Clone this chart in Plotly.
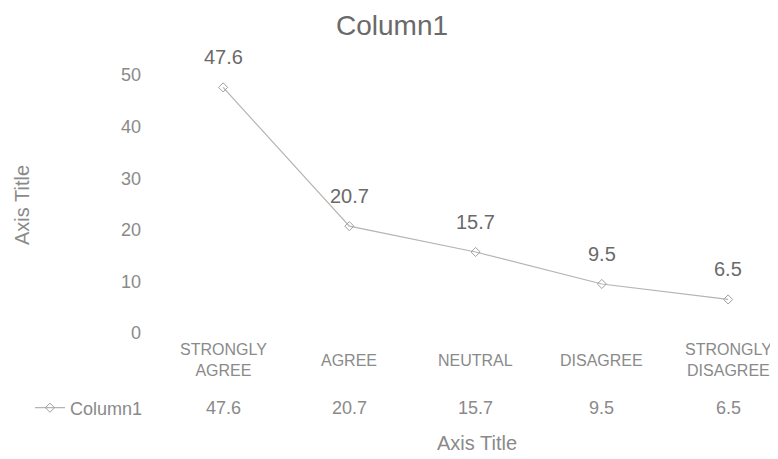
import plotly.graph_objects as go

categories = ["STRONGLY AGREE", "AGREE", "NEUTRAL", "DISAGREE", "STRONGLY DISAGREE"]
cat_labels = ["STRONGLY<br>AGREE", "AGREE", "NEUTRAL", "DISAGREE", "STRONGLY<br>DISAGREE"]
values = [47.6, 20.7, 15.7, 9.5, 6.5]
series_name = "Column1"
y_ticks = [0, 10, 20, 30, 40, 50]

TXT = "#8a8a8a"
LBL = "#6a6a6a"
LINE = "#b4b4b4"
FONT = "Liberation Sans, Arial, sans-serif"

W, H = 778, 459
OFF = 8  # the page body adds an 8px margin around the figure

def fy(px):  # page pixel row -> paper fraction (margins are zero)
    return 1 - (px - OFF) / H
def fx(px):
    return (px - OFF) / W

fig = go.Figure()
fig.add_trace(go.Scatter(
    x=list(range(len(categories))), y=values, name=series_name,
    mode="lines+markers",
    line=dict(color=LINE, width=1.2),
    marker=dict(symbol="diamond-open", size=7, color="#a0a0a0", line=dict(width=1, color="#a0a0a0")),
    showlegend=True,
))

annotations = []
for i, v in enumerate(values):
    annotations.append(dict(x=i, y=v, xref="x", yref="y", text=f"{v}", showarrow=False,
                            yshift=30, font=dict(size=20, color=LBL, family=FONT)))
for i, lab in enumerate(cat_labels):
    annotations.append(dict(x=i, y=fy(360), xref="x", yref="paper", text=lab, showarrow=False,
                            yanchor="middle", valign="middle", align="center",
                            font=dict(size=16, color=TXT, family=FONT)))
for i, v in enumerate(values):
    annotations.append(dict(x=i, y=fy(408), xref="x", yref="paper", text=f"{v}", showarrow=False,
                            yanchor="middle", font=dict(size=18, color=TXT, family=FONT)))
annotations.append(dict(x=fx(477), y=fy(443), xref="paper", yref="paper", text="Axis Title",
                        showarrow=False, xanchor="center", yanchor="middle",
                        font=dict(size=20, color=TXT, family=FONT)))
annotations.append(dict(x=fx(22), y=fy(205), xref="paper", yref="paper", text="Axis Title",
                        showarrow=False, textangle=-90, xanchor="center", yanchor="middle",
                        font=dict(size=20, color=TXT, family=FONT)))

fig.update_layout(
    width=W, height=H,
    margin=dict(l=0, r=0, t=0, b=0, autoexpand=False),
    paper_bgcolor="white", plot_bgcolor="white",
    title=dict(text="Column1", x=fx(392), xref="container", xanchor="center",
               y=fy(25), yref="container", yanchor="middle",
               font=dict(size=28, color="#6a6a6a", family=FONT)),
    font=dict(family=FONT, color=TXT),
    xaxis=dict(domain=[fx(160), fx(778.6)], range=[-0.5, 4.4], showticklabels=False, showgrid=False,
               zeroline=False, showline=False, ticks=""),
    yaxis=dict(domain=[fy(333), fy(75)], range=[0, 50], tickvals=y_ticks, showgrid=False,
               zeroline=False, showline=False, ticks="", ticklabelstandoff=18,
               tickfont=dict(size=18, color=TXT, family=FONT)),
    showlegend=True,
    legend=dict(x=fx(30), y=fy(408), xref="paper", yref="paper", xanchor="left", yanchor="middle",
                bgcolor="rgba(0,0,0,0)", font=dict(size=18, color=TXT, family=FONT),
                itemwidth=30),
    annotations=annotations,
)

fig.write_html("out.html")
